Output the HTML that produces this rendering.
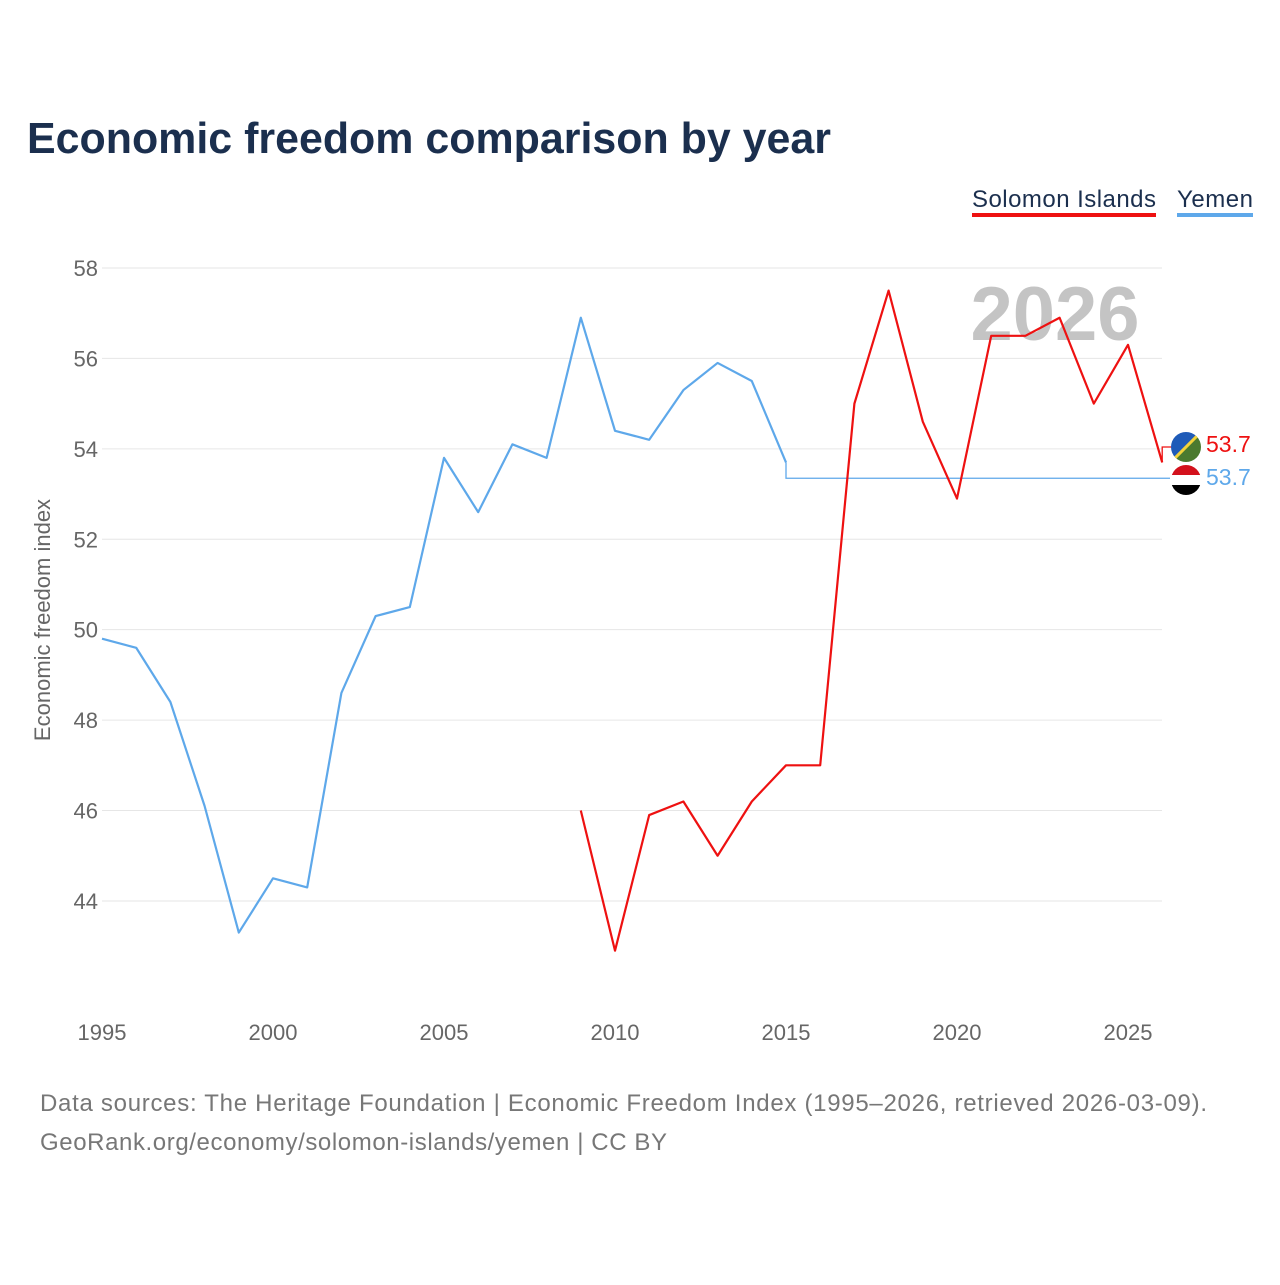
<!DOCTYPE html>
<html><head><meta charset="utf-8"><style>
body{margin:0;background:#fff;width:1280px;height:1280px;overflow:hidden;font-family:"Liberation Sans",sans-serif}
</style></head><body>
<svg width="1280" height="1280" id="svg" font-family="Liberation Sans, sans-serif">
<text x="27" y="153" font-size="44" font-weight="bold" fill="#1b2f4e" textLength="804" lengthAdjust="spacingAndGlyphs">Economic freedom comparison by year</text>
<g>
<text x="972" y="207" font-size="24" fill="#1b2f4e" textLength="184">Solomon Islands</text>
<rect x="972" y="213" width="184" height="4" fill="#ee1111"/>
<text x="1177" y="207" font-size="24" fill="#1b2f4e" textLength="76">Yemen</text>
<rect x="1177" y="213" width="76" height="4" fill="#5ea8ea"/>
</g>
<text x="1055" y="340" font-size="76" font-weight="bold" fill="#c4c4c4" text-anchor="middle">2026</text>
<text transform="translate(50,620) rotate(-90)" font-size="22" fill="#666" text-anchor="middle">Economic freedom index</text>
<g id="grid"></g><g id="series"></g>
<text x="40" y="1111" font-size="24" fill="#777" textLength="1167">Data sources: The Heritage Foundation | Economic Freedom Index (1995–2026, retrieved 2026-03-09).</text>
<text x="40" y="1150" font-size="24" fill="#777" textLength="627">GeoRank.org/economy/solomon-islands/yemen | CC BY</text>
</svg>
<script>
const yTicks=[44,46,48,50,52,54,56,58];
const xTicks=[1995,2000,2005,2010,2015,2020,2025];
const yemenYears=[1995,1996,1997,1998,1999,2000,2001,2002,2003,2004,2005,2006,2007,2008,2009,2010,2011,2012,2013,2014,2015];
const yemenValues=[49.8,49.6,48.4,46.1,43.3,44.5,44.3,48.6,50.3,50.5,53.8,52.6,54.1,53.8,56.9,54.4,54.2,55.3,55.9,55.5,53.7];
const yemenFlat=53.35;
const solYears=[2009,2010,2011,2012,2013,2014,2015,2016,2017,2018,2019,2020,2021,2022,2023,2024,2025,2026];
const solValues=[46.0,42.9,45.9,46.2,45.0,46.2,47.0,47.0,55.0,57.5,54.6,52.9,56.5,56.5,56.9,55.0,56.3,53.7];
const NS="http://www.w3.org/2000/svg";
const X=y=>102+(y-1995)*34.2, Y=v=>268+(58-v)*45.21;
const grid=document.getElementById('grid'), ser=document.getElementById('series');
function mk(t,a,p){const e=document.createElementNS(NS,t);for(const k in a)e.setAttribute(k,a[k]);p.appendChild(e);return e;}
yTicks.forEach(v=>{
 const l=mk('line',{x1:102,x2:1162,y1:Y(v),y2:Y(v),stroke:'#e6e6e6','stroke-width':1},grid);
 
 
 const t=mk('text',{x:98,y:Y(v)+8,'font-size':22,fill:'#666','text-anchor':'end'},grid);t.textContent=v;
 
 
});
xTicks.forEach(y=>{
 const t=mk('text',{x:X(y),y:1040,'font-size':22,fill:'#666','text-anchor':'middle'},grid);t.textContent=y;
 
 
});
const yp=yemenYears.map((y,i)=>X(y)+','+Y(yemenValues[i])).join(' ');
const yl=mk('polyline',{points:yp,fill:'none',stroke:'#5ea8ea','stroke-width':2.2,'stroke-linejoin':'round'},ser);


const last=yemenYears[yemenYears.length-1];
const yf=mk('polyline',{points:X(last)+','+Y(yemenValues[yemenValues.length-1])+' '+X(last)+','+Y(yemenFlat)+' 1170,'+Y(yemenFlat),fill:'none',stroke:'#5ea8ea','stroke-width':1.3},ser);


const sp=solYears.map((y,i)=>X(y)+','+Y(solValues[i])).join(' ');
const sl=mk('polyline',{points:sp,fill:'none',stroke:'#ee1111','stroke-width':2.2,'stroke-linejoin':'round'},ser);


const sc=mk('polyline',{points:X(2026)+','+Y(solValues[solValues.length-1])+' '+X(2026)+',447 1172,447',fill:'none',stroke:'#ee1111','stroke-width':1.3},ser);


const f1=mk('g',{},ser);


const c1=mk('clipPath',{id:'c1'},f1);
mk('circle',{cx:1186,cy:447,r:15},c1);
mk('polygon',{points:'1171,432 1201,432 1171,462',fill:'#1f5bb8','clip-path':'url(#c1)'},f1);
mk('polygon',{points:'1201,432 1201,462 1171,462',fill:'#4b7a2f','clip-path':'url(#c1)'},f1);
mk('line',{x1:1201,y1:432,x2:1171,y2:462,stroke:'#f2d33b','stroke-width':3,'clip-path':'url(#c1)'},f1);
const f2=mk('g',{},ser);


const c2=mk('clipPath',{id:'c2'},f2);
mk('circle',{cx:1186,cy:480,r:15},c2);
mk('rect',{x:1171,y:465,width:30,height:10,fill:'#d3111c','clip-path':'url(#c2)'},f2);
mk('rect',{x:1171,y:475,width:30,height:10,fill:'#fff','clip-path':'url(#c2)'},f2);
mk('rect',{x:1171,y:485,width:30,height:10,fill:'#000','clip-path':'url(#c2)'},f2);
const t1=mk('text',{x:1206,y:452,'font-size':23,fill:'#ee1111'},ser);t1.textContent=solValues[solValues.length-1].toFixed(1);


const t2=mk('text',{x:1206,y:485,'font-size':23,fill:'#5ea8ea'},ser);t2.textContent=yemenValues[yemenValues.length-1].toFixed(1);


</script>
</body></html>
